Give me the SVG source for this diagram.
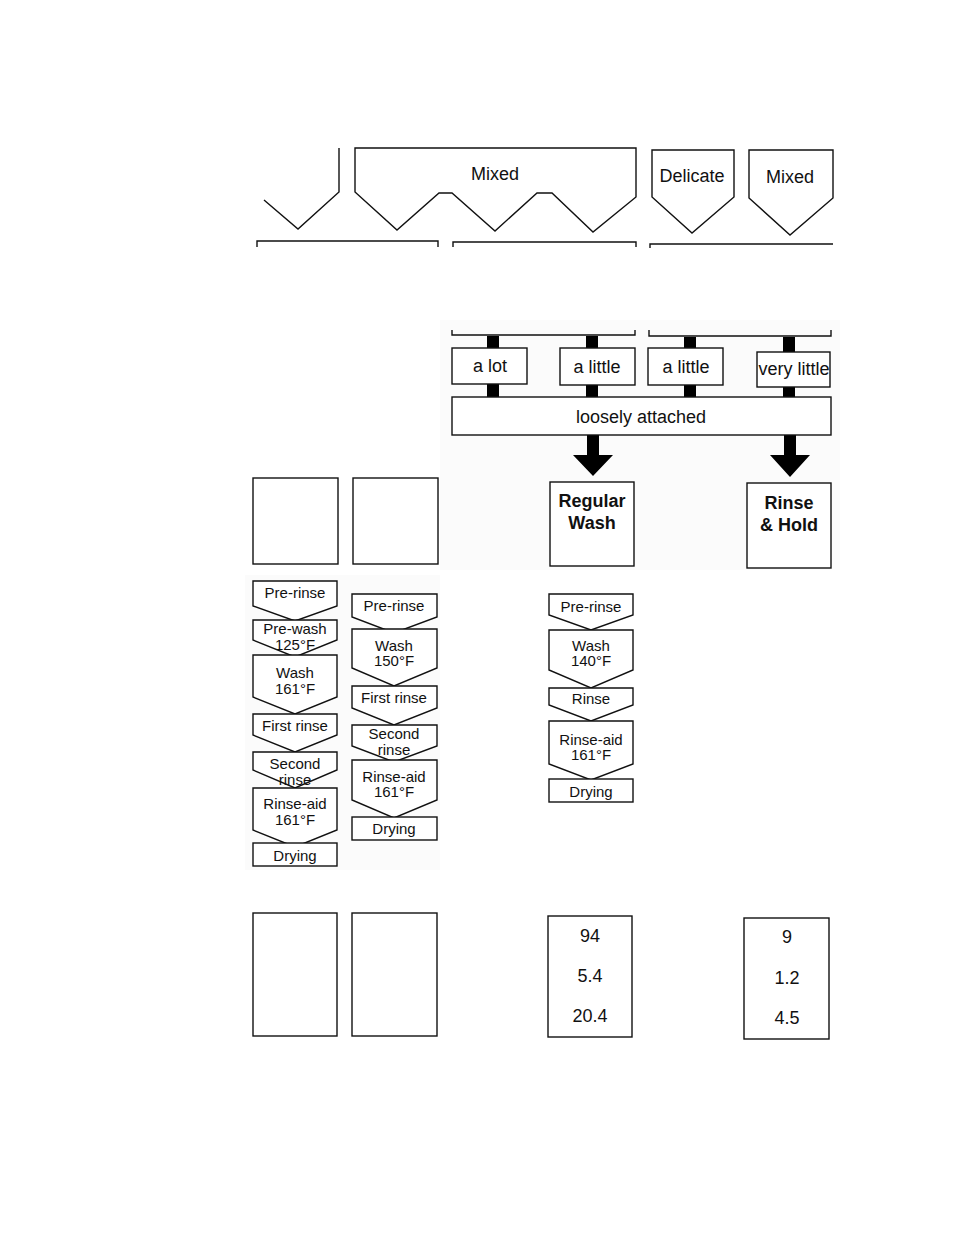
<svg xmlns="http://www.w3.org/2000/svg" width="954" height="1235" viewBox="0 0 954 1235">
<style>
.ln{fill:#fff;stroke:#111;stroke-width:1.4}
.op{fill:none;stroke:#111;stroke-width:1.4}
.t{font-family:"Liberation Sans",Arial,sans-serif;font-size:15px;fill:#111;text-anchor:middle}
.m{font-family:"Liberation Sans",Arial,sans-serif;font-size:18px;fill:#111;text-anchor:middle}
.b{font-family:"Liberation Sans",Arial,sans-serif;font-size:18px;font-weight:bold;fill:#111;text-anchor:middle}
.bar{fill:#000}
</style>
<rect width="954" height="1235" fill="#fff"/>
<rect x="440" y="320" width="400" height="250" fill="#fbfbfb"/>
<rect x="245" y="575" width="195" height="295" fill="#fbfbfb"/>
<g id="top-left"><path class="op" d="M339 148 V192 L298 229 L264 200"/></g>
<g id="top-mixed"><path class="ln" d="M355 148 H636 V197 L593 232 L552 193 H537 L495 231 L452 193 H439 L397 230 L355 192 Z"/><text class="m" x="495" y="180">Mixed</text></g>
<g id="top-delicate"><path class="ln" d="M652 150 H734 V197 L692 233 L652 197 Z"/><text class="m" x="692" y="182">Delicate</text></g>
<g id="top-mixed2"><path class="ln" d="M749 150 H833 V198 L790 235 L749 198 Z"/><text class="m" x="790" y="183">Mixed</text></g>
<g id="brackets">
<path class="op" d="M257 247 V241 H438 V247"/>
<path class="op" d="M453 247 V242 H636 V247"/>
<path class="op" d="M650 248 V244 H833"/>
<path class="op" d="M452 330 V335 H635 V330"/>
<path class="op" d="M649 330 V336 H831 V330"/>
</g>
<g id="connectors">
<rect class="bar" x="487" y="336" width="12" height="12"/>
<rect class="bar" x="586" y="336" width="12" height="12"/>
<rect class="bar" x="684" y="337" width="12" height="11"/>
<rect class="bar" x="783" y="337" width="12" height="15"/>
<rect class="bar" x="487" y="384" width="12" height="13"/>
<rect class="bar" x="586" y="385" width="12" height="12"/>
<rect class="bar" x="684" y="385" width="12" height="12"/>
<rect class="bar" x="783" y="387" width="12" height="10"/>
<path class="bar" d="M587 435 H599 V455 H613 L593 476 L573 455 H587 Z"/>
<path class="bar" d="M784 435 H796 V455 H810 L790 477 L770 455 H784 Z"/>
</g>
<g id="n-alot"><rect class="ln" x="452" y="348" width="75" height="36"/><text class="m" x="490" y="372">a lot</text></g>
<g id="n-alittle1"><rect class="ln" x="560" y="348" width="75" height="37"/><text class="m" x="597" y="373">a little</text></g>
<g id="n-alittle2"><rect class="ln" x="648" y="348" width="75" height="37"/><text class="m" x="686" y="373">a little</text></g>
<g id="n-verylittle"><rect class="ln" x="757" y="352" width="73" height="35"/><text class="m" x="794" y="375">very little</text></g>
<g id="n-loosely"><rect class="ln" x="452" y="397" width="379" height="38"/><text class="m" x="641" y="423">loosely attached</text></g>
<g id="n-regular"><rect class="ln" x="550" y="482" width="84" height="84"/><text class="b" x="592" y="507">Regular</text><text class="b" x="592" y="529">Wash</text></g>
<g id="n-rinsehold"><rect class="ln" x="747" y="483" width="84" height="85"/><text class="b" x="789" y="509">Rinse</text><text class="b" x="789" y="531">&amp; Hold</text></g>
<g id="n-box1"><rect class="ln" x="253" y="478" width="85" height="86"/></g>
<g id="n-box2"><rect class="ln" x="353" y="478" width="85" height="86"/></g>
<g id="col1">
<path class="ln" d="M253 581 H337 V606 L295 621 L253 606 Z"/><text class="t" x="295" y="598">Pre-rinse</text>
<path class="ln" d="M253 620 H337 V640 L295 657 L253 640 Z"/><text class="t" x="295" y="634">Pre-wash</text><text class="t" x="295" y="650">125°F</text>
<path class="ln" d="M253 655 H337 V697 L295 714 L253 697 Z"/><text class="t" x="295" y="678">Wash</text><text class="t" x="295" y="694">161°F</text>
<path class="ln" d="M253 714 H337 V735 L295 752 L253 735 Z"/><text class="t" x="295" y="731">First rinse</text>
<path class="ln" d="M253 752 H337 V770 L295 788 L253 770 Z"/><text class="t" x="295" y="769">Second</text><text class="t" x="295" y="785">rinse</text>
<path class="ln" d="M253 788 H337 V830 L295 847 L253 830 Z"/><text class="t" x="295" y="809">Rinse-aid</text><text class="t" x="295" y="825">161°F</text>
<rect class="ln" x="253" y="843" width="84" height="23"/><text class="t" x="295" y="861">Drying</text>
</g>
<g id="col2">
<path class="ln" d="M352 594 H437 V617 L394 633 L352 617 Z"/><text class="t" x="394" y="611">Pre-rinse</text>
<path class="ln" d="M352 629 H437 V668 L394 686 L352 668 Z"/><text class="t" x="394" y="651">Wash</text><text class="t" x="394" y="666">150°F</text>
<path class="ln" d="M352 686 H437 V708 L394 725 L352 708 Z"/><text class="t" x="394" y="703">First rinse</text>
<path class="ln" d="M352 725 H437 V746 L394 762 L352 746 Z"/><text class="t" x="394" y="739">Second</text><text class="t" x="394" y="755">rinse</text>
<path class="ln" d="M352 760 H437 V800 L394 818 L352 800 Z"/><text class="t" x="394" y="782">Rinse-aid</text><text class="t" x="394" y="797">161°F</text>
<rect class="ln" x="352" y="817" width="85" height="23"/><text class="t" x="394" y="834">Drying</text>
</g>
<g id="col3">
<path class="ln" d="M549 594 H633 V615 L591 630 L549 615 Z"/><text class="t" x="591" y="612">Pre-rinse</text>
<path class="ln" d="M549 630 H633 V670 L591 688 L549 670 Z"/><text class="t" x="591" y="651">Wash</text><text class="t" x="591" y="666">140°F</text>
<path class="ln" d="M549 688 H633 V705 L591 721 L549 705 Z"/><text class="t" x="591" y="704">Rinse</text>
<path class="ln" d="M549 721 H633 V764 L591 780 L549 764 Z"/><text class="t" x="591" y="745">Rinse-aid</text><text class="t" x="591" y="760">161°F</text>
<rect class="ln" x="549" y="779" width="84" height="23"/><text class="t" x="591" y="797">Drying</text>
</g>
<g id="n-bot1"><rect class="ln" x="253" y="913" width="84" height="123"/></g>
<g id="n-bot2"><rect class="ln" x="352" y="913" width="85" height="123"/></g>
<g id="n-bot3"><rect class="ln" x="548" y="916" width="84" height="121"/><text class="m" x="590" y="942">94</text><text class="m" x="590" y="982">5.4</text><text class="m" x="590" y="1022">20.4</text></g>
<g id="n-bot4"><rect class="ln" x="744" y="918" width="85" height="121"/><text class="m" x="787" y="943">9</text><text class="m" x="787" y="984">1.2</text><text class="m" x="787" y="1024">4.5</text></g>
</svg>
